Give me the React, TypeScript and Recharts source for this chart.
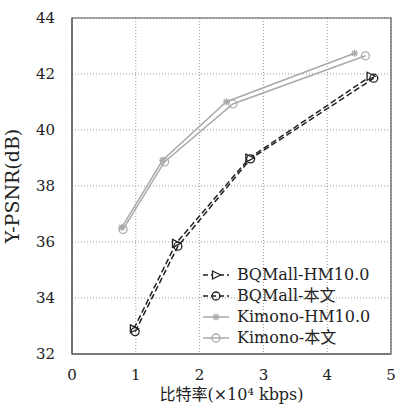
import React from "react";
import { LineChart, Line, XAxis, YAxis, CartesianGrid, ReferenceArea } from "recharts";

const bqHmRate = [0.97, 1.63, 2.78, 4.68];
const bqHmPsnr = [32.9, 35.95, 39.0, 41.92];
const bqOursRate = [0.99, 1.66, 2.8, 4.73];
const bqOursPsnr = [32.8, 35.85, 38.97, 41.85];
const kiHmRate = [0.78, 1.42, 2.42, 4.43];
const kiHmPsnr = [36.52, 38.92, 41.01, 42.74];
const kiOursRate = [0.8, 1.45, 2.52, 4.6];
const kiOursPsnr = [36.45, 38.86, 40.93, 42.65];
const xTicks = [0, 1, 2, 3, 4, 5];
const yTicks = [32, 34, 36, 38, 40, 42, 44];

const FONT = "'DejaVu Serif', 'Noto Sans CJK SC', serif";

const toRows = (xs: number[], ys: number[]) => xs.map((x, i) => ({ x, y: ys[i] }));

const series = [
  { name: "BQMall-HM10.0", data: toRows(bqHmRate, bqHmPsnr), color: "#222", dash: "6 3", marker: "tri" },
  { name: "BQMall-本文", data: toRows(bqOursRate, bqOursPsnr), color: "#222", dash: "6 3", marker: "circle" },
  { name: "Kimono-HM10.0", data: toRows(kiHmRate, kiHmPsnr), color: "#aaa", dash: undefined, marker: "star" },
  { name: "Kimono-本文", data: toRows(kiOursRate, kiOursPsnr), color: "#aaa", dash: undefined, marker: "circle" },
];

function Marker({ cx, cy, kind, color }: any) {
  if (cx == null || cy == null) return null;
  if (kind === "tri") {
    return <polygon points={`${cx - 3.5},${cy - 4} ${cx + 4.5},${cy} ${cx - 3.5},${cy + 4}`} fill="#fff" stroke={color} strokeWidth={1.3} />;
  }
  if (kind === "star") {
    return (
      <g stroke={color} strokeWidth={1.3}>
        <line x1={cx - 3.5} y1={cy} x2={cx + 3.5} y2={cy} />
        <line x1={cx} y1={cy - 3.5} x2={cx} y2={cy + 3.5} />
        <line x1={cx - 2.5} y1={cy - 2.5} x2={cx + 2.5} y2={cy + 2.5} />
        <line x1={cx - 2.5} y1={cy + 2.5} x2={cx + 2.5} y2={cy - 2.5} />
      </g>
    );
  }
  return <circle cx={cx} cy={cy} r={4} fill="none" stroke={color} strokeWidth={1.3} />;
}

function LegendBox() {
  return (
    <div style={{ position: "absolute", left: 200, top: 264, fontFamily: FONT, fontSize: 16, color: "#222", lineHeight: "21px" }}>
      {series.map((s) => (
        <div key={s.name} style={{ display: "flex", alignItems: "center", height: 21 }}>
          <svg width={32} height={14} style={{ marginRight: 5 }}>
            <line x1={3} y1={7} x2={29} y2={7} stroke={s.color} strokeWidth={1.5} strokeDasharray={s.dash ? "5 3" : undefined} />
            <Marker cx={16} cy={7} kind={s.marker} color={s.color} />
          </svg>
          <span>{s.name}</span>
        </div>
      ))}
    </div>
  );
}

export default function App() {
  return (
    <div style={{ position: "absolute", left: 0, top: 0, width: 395, height: 410, background: "#fff" }}>
      <LineChart width={395} height={410} margin={{ top: 18, right: 4, left: 0, bottom: 0 }}>
        <CartesianGrid stroke="#999" strokeDasharray="1 2" />
        <XAxis
          type="number"
          dataKey="x"
          domain={[0, 5]}
          ticks={xTicks}
          height={56}
          tickLine={false}
          axisLine={{ stroke: "#555" }}
          tick={{ fontFamily: FONT, fontSize: 15, fill: "#222" }}
          tickMargin={9}
          label={{ value: "比特率(×10⁴ kbps)", position: "insideBottom", offset: 10, style: { fontFamily: FONT, fontSize: 16, fill: "#222" } }}
        />
        <YAxis
          type="number"
          dataKey="y"
          domain={[32, 44]}
          ticks={yTicks}
          width={72}
          tickLine={false}
          axisLine={{ stroke: "#555" }}
          tick={{ fontFamily: FONT, fontSize: 15, fill: "#222" }}
          tickMargin={11}
          label={{ value: "Y-PSNR(dB)", angle: -90, position: "insideLeft", offset: 12, style: { fontFamily: FONT, fontSize: 19, fill: "#222", textAnchor: "middle" } }}
        />
        <ReferenceArea x1={0} x2={5} y1={32} y2={44} fill="none" stroke="#555" strokeWidth={1.2} fillOpacity={0} />
        {series.map((s) => (
          <Line
            key={s.name}
            data={s.data}
            dataKey="y"
            name={s.name}
            stroke={s.color}
            strokeWidth={1.5}
            strokeDasharray={s.dash}
            dot={(p: any) => <Marker key={p.index} cx={p.cx} cy={p.cy} kind={s.marker} color={s.color} />}
            isAnimationActive={false}
          />
        ))}
      </LineChart>
      <LegendBox />
    </div>
  );
}
